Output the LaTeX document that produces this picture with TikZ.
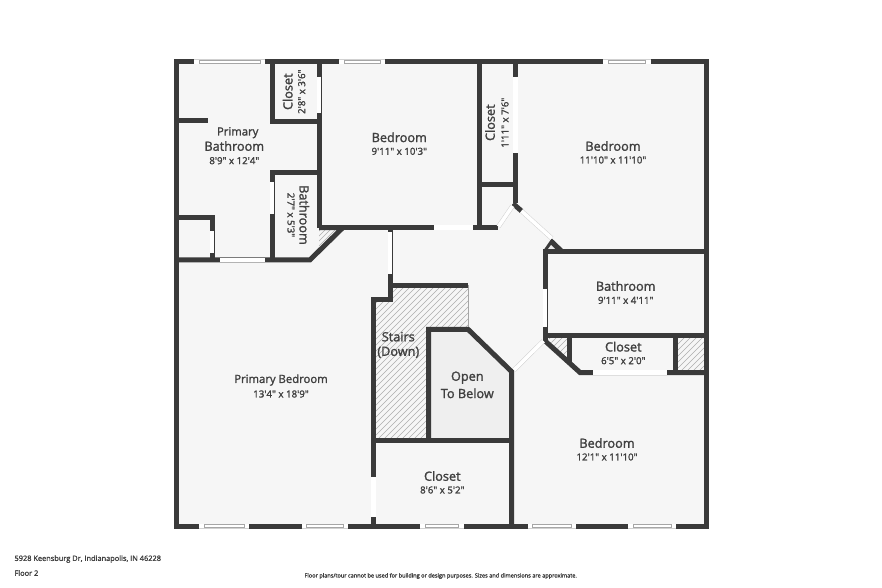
\documentclass[tikz,border=0pt]{standalone}
\usepackage{fontspec}
\setmainfont{Open Sans}
\newfontfamily\semifont{Open Sans}[FakeBold=1.7]
\definecolor{wallc}{HTML}{3A3A3A}
\definecolor{floorc}{HTML}{F6F6F6}
\definecolor{openc}{HTML}{EFEFEF}
\definecolor{textc}{HTML}{404040}
\tikzset{
  wall/.style={draw=wallc,line width=5pt,line join=miter},
  doorgap/.style={draw=white,line width=4.4pt},
  diagdoor/.style={draw=black!18,double=white,double distance=3.6pt,line width=.5pt},
  hatchline/.style={draw=black!32,line width=.5pt},
  roomname/.style={text=textc,font=\semifont\fontsize{12.7}{14}\selectfont},
  smallname/.style={text=textc,font=\semifont\fontsize{11.3}{12}\selectfont},
  roomsize/.style={text=textc,font=\semifont\fontsize{9.7}{11}\selectfont},
  footer/.style={text=textc,anchor=west,font=\semifont\fontsize{7.4}{8}\selectfont},
  notice/.style={text=textc,anchor=west,font=\semifont\fontsize{5.6}{6}\selectfont}
}
\begin{document}
\begin{tikzpicture}[x=1pt,y=-1pt]
\useasboundingbox (0,0) rectangle (882,588);
\fill[white] (0,0) rectangle (882,588);

% floors
\fill[floorc] (176,61.7) rectangle (706,526);
\fill[openc] (428.7,329.3) -- (468,329.3) -- (511.7,371.7) -- (511.7,440.3) -- (428.7,440.3) -- cycle;

% hatched areas
\begin{scope}
\clip (373.3,299.5) -- (390,299.5) -- (390,285.3) -- (468.3,285.3) -- (468.3,329.3) -- (428.7,329.3) -- (428.7,440.3) -- (373.3,440.3) -- cycle;
\foreach \k in {655,661,...,875}
  \draw[hatchline] (\k,0) -- ++(-700,700);
\end{scope}
\draw[draw=black!35,line width=.4pt] (468.3,285.3) -- (468.3,329.3);
\begin{scope}
\clip (319,229) -- (341,229) -- (319,250) -- cycle;
\foreach \k in {550,555,...,575}
  \draw[hatchline] (\k,0) -- ++(-700,700);
\end{scope}
\begin{scope}
\clip (545,335) -- (569.5,335) -- (569.5,364) -- cycle;
\foreach \k in {882,888,...,936}
  \draw[hatchline] (\k,0) -- ++(-700,700);
\end{scope}
\begin{scope}
\clip (675,335) rectangle (706,372.5);
\foreach \k in {1010,1016,...,1082}
  \draw[hatchline] (\k,0) -- ++(-700,700);
\end{scope}
\fill[wallc] (551.7,238.3) -- (565,251) -- (543,251) -- cycle;
\fill[black!8] (551,245) -- (555,249) -- (548,249) -- cycle;

% outer walls
\draw[wall] (176,61.7) rectangle (706,526);

% rooms top left
\draw[wall] (272,61.7) -- (272,121.5) -- (319,121.5);
\draw[wall] (319,61.7) -- (319,227.5);
\draw[wall] (176,120.8) -- (208,120.8);
\draw[wall] (319,172.5) -- (272,172.5) -- (272,259.8);
\draw[wall] (176,217.5) -- (212,217.5) -- (212,259.8);
\draw[wall] (176,259.8) -- (310,259.8) -- (343,227.5) -- (319,227.5);
\draw[wall] (343,227.5) -- (498,227.5);
\draw[wall] (390,227.5) -- (390,301.8);

% closet and door block at the top
\draw[wall] (479.8,61.7) -- (479.8,227.5);
\draw[wall] (479.8,184) -- (515.5,184);
\draw[wall] (515.5,61.7) -- (515.5,203);
\draw[wall] (513,203.6) -- (521.5,211);

% right side rooms
\draw[wall] (706,251) -- (545,251) -- (545,341);
\draw[wall] (545,335) -- (706,335);
\draw[wall] (543.5,339.5) -- (580,372.5) -- (706,372.5);
\draw[wall] (569.5,335) -- (569.5,364);
\draw[wall] (675,335) -- (675,372.5);

% stairs and open area
\draw[wall] (468.3,285.3) -- (390,285.3);
\draw[wall] (390,299.5) -- (373.3,299.5) -- (373.3,526);
\draw[wall] (428.7,440.3) -- (428.7,329.3) -- (468,329.3) -- (511.7,371.7) -- (511.7,526);
\draw[wall] (373.3,440.3) -- (511.7,440.3);

% doors
\foreach \xa/\ya/\xb/\yb in {319/76.7/319/112.7, 272/182/272/214, 212/231/212/253.3,
  220/259.8/265/259.8, 434/227.5/473.3/227.5, 390/232.3/390/274,
  515.5/76.7/515.5/152.7, 545/289.3/545/326.7, 593.3/372.5/666.7/372.5, 373.3/477.3/373.3/516.7}
  \draw[doorgap] (\xa,\ya) -- (\xb,\yb);
\foreach \xa/\ya/\xb/\yb in {498.5/226.5/512.5/206, 521.5/211/551.7/238.3, 514/370/543.3/341}
  \draw[diagdoor] (\xa,\ya) -- (\xb,\yb);

% windows
\foreach \a/\b in {194.3/265, 339.3/385, 603.3/650.7} {
  \fill[white] (\a,59.2) rectangle (\b,64.2);
  \draw[draw=black!35,line width=.5pt] (\a+5,60) rectangle (\b-5,63.4);
  \draw[draw=black!18,line width=.4pt] (\a,59.2) -- (\b,59.2);
}
\foreach \a/\b in {199/249, 301.6/348, 420/463.6, 527.5/576, 628/676} {
  \fill[white] (\a,523.5) rectangle (\b,528.5);
  \draw[draw=black!35,line width=.5pt] (\a+5,524.3) rectangle (\b-5,527.7);
  \draw[draw=black!18,line width=.4pt] (\a,528.5) -- (\b,528.5);
}

% labels
\node[smallname] (primary) at (237.7,132.7) {Primary};
\node[roomname] (primarybath) at (234.3,146) {Bathroom};
\node[roomsize] (primarybathsize) at (234.3,160.7) {8'9" x 12'4"};
\node[roomname,rotate=90] (closeta) at (287.7,91.7) {Closet};
\node[roomsize,rotate=90] (closetasize) at (301.7,91.7) {2'8" x 3'6"};
\node[roomname,rotate=-90] (batha) at (304.3,215) {Bathroom};
\node[roomsize,rotate=-90] (bathasize) at (291,215) {2'7" x 5'3"};
\node[roomname] (bedrooma) at (399.3,137.3) {Bedroom};
\node[roomsize] (bedroomasize) at (399.3,151.3) {9'11" x 10'3"};
\node[roomname,rotate=90] (closetb) at (490,122.7) {Closet};
\node[roomsize,rotate=90] (closetbsize) at (505,122.7) {1'11" x 7'6"};
\node[roomname] (bedroomb) at (613,146) {Bedroom};
\node[roomsize] (bedroombsize) at (613,160) {11'10" x 11'10"};
\node[roomname] (bathb) at (625.7,286) {Bathroom};
\node[roomsize] (bathbsize) at (625.7,300.3) {9'11" x 4'11"};
\node[roomname] (closetc) at (623.3,346.7) {Closet};
\node[roomsize] (closetcsize) at (623.3,360.7) {6'5" x 2'0"};
\node[roomname] (stairs) at (398.3,336.7) {Stairs};
\node[roomname] (stairsdown) at (398.3,352.3) {(Down)};
\node[roomname] (open) at (467.3,377.7) {Open};
\node[roomname] (tobelow) at (467.3,393.3) {To Below};
\node[roomname] (closetd) at (442.3,476) {Closet};
\node[roomsize] (closetdsize) at (442.3,490) {8'6" x 5'2"};
\node[roomname] (bedroomc) at (607,443) {Bedroom};
\node[roomsize] (bedroomcsize) at (607,457) {12'1" x 11'10"};
\node[smallname] (primarybed) at (281,380) {Primary Bedroom};
\node[roomsize] (primarybedsize) at (281,394) {13'4" x 18'9"};

% footer
\node[footer] (address) at (11,559) {5928 Keensburg Dr, Indianapolis, IN 46228};
\node[footer] (floor) at (11,573) {Floor 2};
\node[notice] (disclaimer) at (301,576) {Floor plans/tour cannot be used for building or design purposes. Sizes and dimensions are approximate.};
\end{tikzpicture}
\end{document}
